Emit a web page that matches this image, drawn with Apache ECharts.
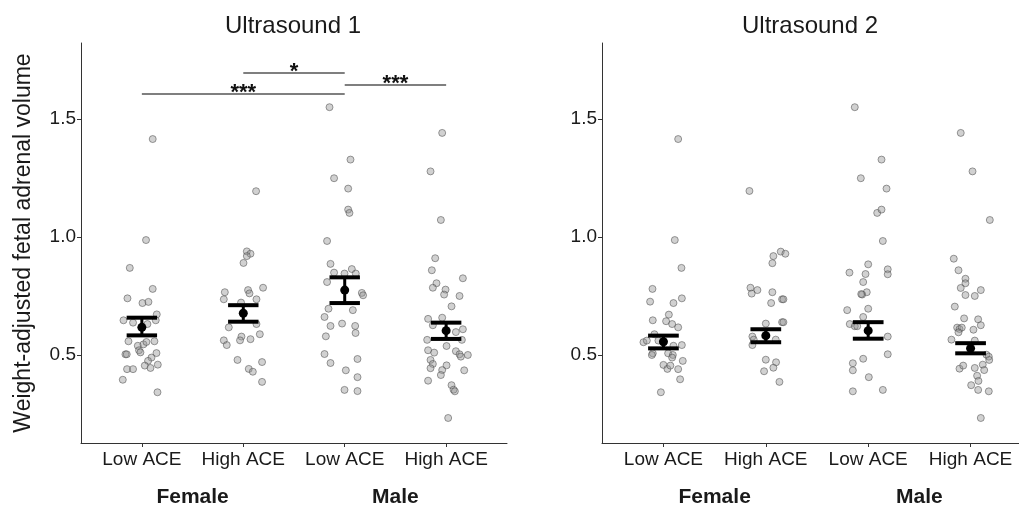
<!DOCTYPE html>
<html>
<head>
<meta charset="utf-8">
<script src="https://cdn.jsdelivr.net/npm/echarts@6/dist/echarts.min.js"></script>
<style>
  html, body { margin: 0; padding: 0; background: #fff; }
  #chart { width: 1019px; height: 510px; }
</style>
</head>
<body>
<div id="chart"></div>
<script>
// categories
const groups = ['Low ACE', 'High ACE', 'Low ACE', 'High ACE'];
const sexes = ['Female', 'Male'];
const yTicks = [0.5, 1.0, 1.5];
const titles = ['Ultrasound 1', 'Ultrasound 2'];

// jittered points: [offset from group centre, volume]
const us1FemaleLow = [[0.107,1.415],[0.041,0.987],[-0.119,0.869],[0.107,0.780],[-0.142,0.740],[0.006,0.720],[0.065,0.725],[0.147,0.672],[-0.181,0.647],[-0.087,0.637],[0.055,0.631],[0.137,0.647],[-0.132,0.558],[-0.04,0.539],[0.016,0.545],[0.045,0.555],[0.124,0.558],[-0.028,0.52],[-0.014,0.511],[-0.162,0.503],[-0.149,0.503],[0.144,0.508],[0.095,0.489],[0.061,0.475],[0.029,0.455],[0.085,0.445],[0.157,0.459],[-0.146,0.44],[-0.087,0.44],[-0.188,0.395],[0.154,0.342]];
const us1FemaleHigh = [[0.126,1.194],[0.035,0.939],[0.071,0.929],[0.035,0.919],[0.002,0.89],[-0.182,0.766],[-0.192,0.736],[0.047,0.775],[0.061,0.761],[0.195,0.785],[0.13,0.736],[-0.022,0.722],[-0.143,0.617],[0.13,0.631],[0.163,0.588],[-0.192,0.562],[-0.163,0.542],[-0.018,0.578],[-0.032,0.562],[0.071,0.567],[-0.057,0.479],[0.054,0.441],[0.094,0.429],[0.185,0.47],[0.185,0.386]];
const us1MaleLow = [[-0.15,1.55],[0.057,1.328],[-0.105,1.249],[0.034,1.205],[0.034,1.116],[0.047,1.102],[-0.174,0.983],[-0.14,0.886],[-0.105,0.849],[-0.002,0.845],[0.07,0.864],[0.109,0.845],[-0.174,0.809],[0.169,0.763],[0.181,0.753],[-0.16,0.696],[0.08,0.69],[-0.199,0.661],[-0.14,0.623],[-0.026,0.633],[0.103,0.623],[0.107,0.593],[-0.186,0.579],[-0.199,0.504],[-0.14,0.466],[0.126,0.483],[0.011,0.435],[0.126,0.406],[-0.002,0.352],[0.126,0.347]];
const us1MaleHigh = [[-0.039,1.441],[-0.154,1.278],[-0.052,1.072],[-0.108,0.91],[-0.141,0.859],[-0.095,0.804],[-0.131,0.785],[0.165,0.825],[-0.006,0.777],[-0.02,0.756],[0.132,0.75],[0.053,0.706],[-0.178,0.653],[-0.039,0.658],[-0.131,0.626],[0.096,0.597],[0.165,0.609],[-0.187,0.564],[0.155,0.564],[0.004,0.538],[-0.178,0.52],[-0.118,0.51],[0.096,0.516],[0.132,0.503],[0.145,0.493],[0.214,0.5],[-0.154,0.479],[-0.131,0.462],[0.004,0.456],[-0.039,0.436],[-0.154,0.444],[0.178,0.435],[-0.052,0.415],[-0.178,0.391],[0.053,0.372],[0.073,0.353],[0.086,0.346],[0.02,0.233]];
const us2FemaleLow = [[0.144,1.415],[0.111,0.987],[0.176,0.869],[-0.107,0.78],[-0.13,0.726],[0.098,0.72],[0.18,0.74],[0.053,0.671],[-0.104,0.647],[0.026,0.643],[0.085,0.631],[0.144,0.617],[-0.088,0.588],[-0.195,0.554],[-0.162,0.561],[-0.049,0.561],[0.098,0.539],[0.18,0.542],[-0.104,0.507],[-0.113,0.5],[0.046,0.507],[0.092,0.5],[0.085,0.489],[0.189,0.475],[0,0.458],[0.039,0.441],[0.068,0.455],[0.144,0.44],[0.163,0.397],[-0.025,0.342]];
const us2FemaleHigh = [[-0.16,1.195],[0.146,0.938],[0.191,0.929],[0.074,0.919],[0.064,0.889],[-0.15,0.785],[-0.082,0.775],[-0.138,0.76],[0.064,0.766],[0.052,0.72],[0.159,0.736],[0.172,0.736],[0,0.633],[0.159,0.639],[0.172,0.639],[-0.131,0.578],[-0.118,0.565],[-0.131,0.542],[0.097,0.565],[0,0.48],[0.1,0.469],[0.074,0.446],[-0.017,0.431],[0.133,0.386]];
const us2MaleLow = [[-0.131,1.55],[0.13,1.328],[-0.072,1.249],[0.179,1.205],[0.088,1.102],[0.13,1.116],[0.143,0.983],[0,0.884],[-0.183,0.849],[-0.026,0.843],[0.191,0.863],[0.191,0.842],[-0.049,0.809],[-0.014,0.766],[-0.059,0.756],[-0.068,0.758],[-0.205,0.69],[0,0.696],[-0.049,0.661],[-0.18,0.631],[-0.131,0.622],[-0.107,0.622],[0.191,0.578],[0.191,0.503],[-0.049,0.484],[-0.15,0.465],[-0.15,0.435],[0.006,0.406],[-0.15,0.346],[0.143,0.352]];
const us2MaleHigh = [[-0.096,1.441],[0.019,1.278],[0.188,1.072],[-0.164,0.908],[-0.118,0.859],[-0.05,0.823],[-0.05,0.804],[-0.096,0.784],[-0.05,0.754],[0.1,0.775],[0.041,0.75],[-0.154,0.705],[-0.063,0.655],[0.074,0.651],[0.1,0.626],[-0.131,0.616],[-0.108,0.61],[-0.086,0.616],[0.028,0.607],[-0.118,0.596],[-0.187,0.565],[0.041,0.561],[0.155,0.501],[0.178,0.493],[0.182,0.479],[-0.108,0.442],[-0.072,0.455],[0.041,0.445],[0.119,0.459],[0.133,0.436],[0.064,0.412],[0.077,0.39],[0.006,0.372],[0.074,0.352],[0.178,0.346],[0.1,0.233]];

// mean and error bars per group
const us1Mean = [0.617, 0.677, 0.775, 0.603];
const us1Lower = [0.583, 0.641, 0.720, 0.568];
const us1Upper = [0.658, 0.711, 0.829, 0.637];
const us2Mean = [0.556, 0.582, 0.603, 0.528];
const us2Lower = [0.528, 0.554, 0.569, 0.507];
const us2Upper = [0.582, 0.609, 0.639, 0.550];

// significance brackets (ultrasound 1)
const bracketFrom = [1, 2, 3];
const bracketTo = [3, 3, 4];
const bracketY = [1.606, 1.695, 1.644];
const bracketLabel = ['***', '*', '***'];

const FONT = 'Liberation Sans, Arial, sans-serif';
const Y_MIN = 0.127, Y_MAX = 1.822;

const chart = echarts.init(document.getElementById('chart'));

function xAxis(gi) {
  return {
    type: 'value', gridIndex: gi, min: 0.4, max: 4.6,
    axisLine: { show: true, lineStyle: { color: '#333', width: 1 } },
    axisTick: { show: true, customValues: [1, 2, 3, 4], length: 4, lineStyle: { color: '#333' } },
    axisLabel: {
      customValues: [1, 2, 3, 4], formatter: v => groups[Math.round(v) - 1],
      fontSize: 19, color: '#1a1a1a', fontFamily: FONT, margin: 7
    },
    splitLine: { show: false }
  };
}
function yAxis(gi, name) {
  return {
    type: 'value', gridIndex: gi, min: Y_MIN, max: Y_MAX,
    name: name, nameLocation: 'middle', nameGap: 46,
    nameTextStyle: { fontSize: 23, color: '#1a1a1a', fontFamily: FONT },
    axisLine: { show: true, lineStyle: { color: '#333', width: 1 } },
    axisTick: { show: true, customValues: yTicks, length: 4, lineStyle: { color: '#333' } },
    axisLabel: {
      customValues: yTicks, formatter: v => v.toFixed(1),
      fontSize: 19, color: '#1a1a1a', fontFamily: FONT, margin: 5
    },
    splitLine: { show: false }
  };
}

function points(list, g) {
  return list.map(p => [g + 1 + p[0], p[1]]);
}
function pointSeries(gi, lists) {
  const data = [];
  lists.forEach((l, g) => data.push(...points(l, g)));
  return {
    type: 'scatter', xAxisIndex: gi, yAxisIndex: gi, data: data,
    symbolSize: 7, silent: true, z: 2,
    itemStyle: { color: 'rgba(150,150,150,0.55)', borderColor: 'rgba(70,70,70,0.65)', borderWidth: 1 }
  };
}

const CAP = 0.3;
function errorSeries(gi, mean, lower, upper) {
  return {
    type: 'custom', xAxisIndex: gi, yAxisIndex: gi, z: 5, silent: true,
    data: mean.map((m, i) => [i + 1, m, lower[i], upper[i]]),
    encode: { x: 0, y: [1, 2, 3] },
    renderItem: (params, api) => {
      const x = api.value(0);
      const pm = api.coord([x, api.value(1)]);
      const pl = api.coord([x, api.value(2)]);
      const pu = api.coord([x, api.value(3)]);
      const hw = api.size([CAP, 0])[0] / 2;
      const st = { stroke: '#000', lineWidth: 4 };
      return {
        type: 'group', children: [
          { type: 'line', shape: { x1: pl[0], y1: pl[1], x2: pu[0], y2: pu[1] }, style: { stroke: '#000', lineWidth: 3 } },
          { type: 'line', shape: { x1: pl[0] - hw, y1: pl[1], x2: pl[0] + hw, y2: pl[1] }, style: st },
          { type: 'line', shape: { x1: pu[0] - hw, y1: pu[1], x2: pu[0] + hw, y2: pu[1] }, style: st },
          { type: 'circle', shape: { cx: pm[0], cy: pm[1], r: 4.5 }, style: { fill: '#000' } }
        ]
      };
    }
  };
}

const bracketSeries = {
  type: 'custom', xAxisIndex: 0, yAxisIndex: 0, z: 4, silent: true,
  data: bracketFrom.map((f, i) => [f, bracketTo[i], bracketY[i]]),
  encode: { x: [0, 1], y: 2 },
  renderItem: (params, api) => {
    const a = api.coord([api.value(0), api.value(2)]);
    const b = api.coord([api.value(1), api.value(2)]);
    return {
      type: 'group', children: [
        { type: 'line', shape: { x1: a[0], y1: a[1], x2: b[0], y2: b[1] }, style: { stroke: '#555', lineWidth: 1.5 } },
        { type: 'text', x: (a[0] + b[0]) / 2, y: a[1] - 1.5,
          style: { text: bracketLabel[params.dataIndex], fill: '#111', font: 'bold 22px ' + FONT, align: 'center', verticalAlign: 'middle' } }
      ]
    };
  }
};

chart.setOption({
  animation: false,
  grid: [
    { left: 81, top: 43, width: 426, height: 400, outerBoundsMode: 'none' },
    { left: 602, top: 43, width: 430, height: 400, outerBoundsMode: 'none' }
  ],
  xAxis: [xAxis(0), xAxis(1)],
  yAxis: [yAxis(0, 'Weight-adjusted fetal adrenal volume'), yAxis(1, '')],
  series: [
    pointSeries(0, [us1FemaleLow, us1FemaleHigh, us1MaleLow, us1MaleHigh]),
    pointSeries(1, [us2FemaleLow, us2FemaleHigh, us2MaleLow, us2MaleHigh]),
    errorSeries(0, us1Mean, us1Lower, us1Upper),
    errorSeries(1, us2Mean, us2Lower, us2Upper),
    bracketSeries
  ]
});

// titles and sex labels placed through the axes
const graphics = [];
const titleX = [293, 810];
[0, 1].forEach(gi => {
  graphics.push({
    type: 'text', x: titleX[gi], y: 26,
    style: { text: titles[gi], font: '24px ' + FONT, fill: '#1a1a1a', align: 'center', verticalAlign: 'middle' }
  });
  sexes.forEach((s, k) => {
    const p = chart.convertToPixel({ gridIndex: gi }, [1.5 + 2 * k, Y_MIN]);
    graphics.push({
      type: 'text', x: p[0], y: 497,
      style: { text: s, font: 'bold 21px ' + FONT, fill: '#1a1a1a', align: 'center', verticalAlign: 'middle' }
    });
  });
});
chart.setOption({ graphic: graphics });
</script>
</body>
</html>
